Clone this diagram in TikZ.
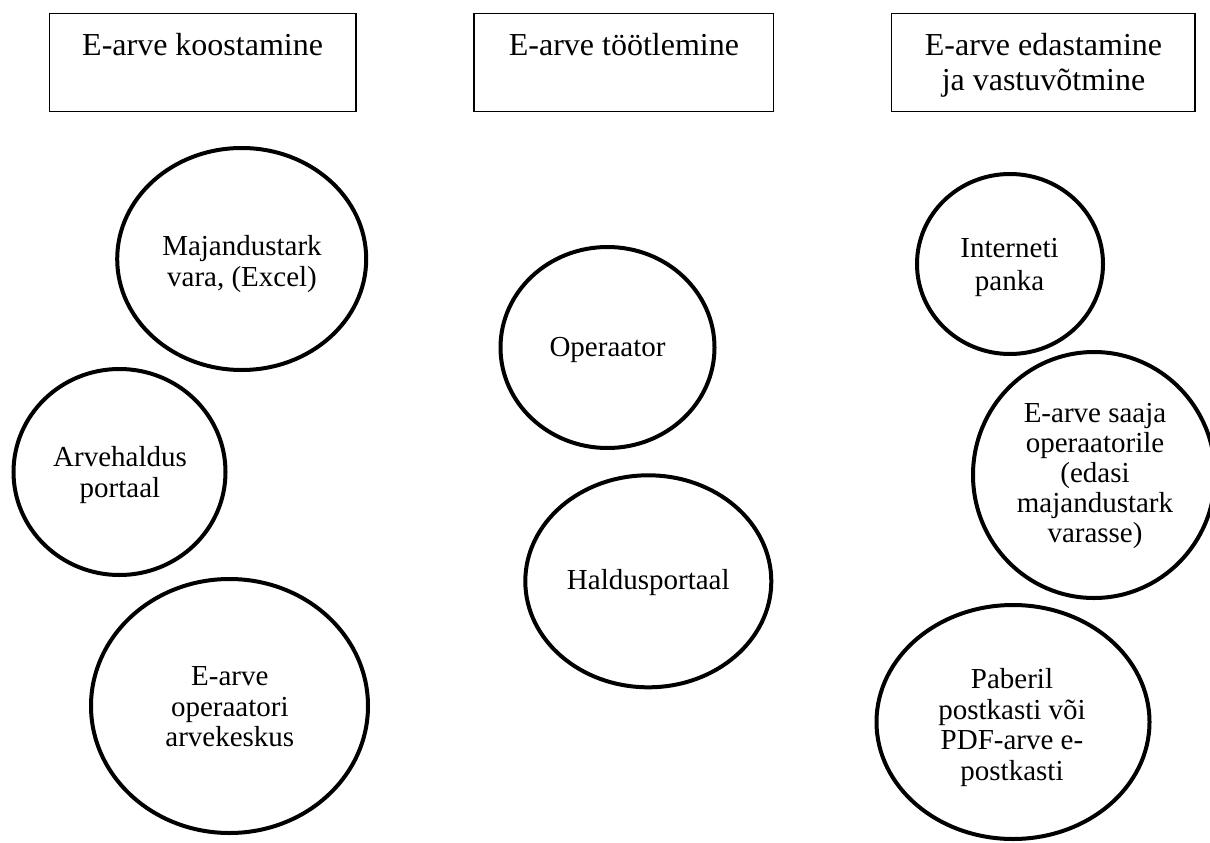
\documentclass[tikz,border=0pt]{standalone}
\usepackage{fontspec}
\setmainfont{Liberation Serif}
\usetikzlibrary{shapes.geometric}
\newcommand\fstrut{\rule{0pt}{25pt}}
\begin{document}
\begin{tikzpicture}[x=1pt,y=-1pt,
  hdrbox/.style={draw, line width=1.3pt, rectangle, inner sep=0pt},
  bubble/.style={draw, line width=4pt, ellipse, inner sep=0pt},
  hdrtxt/.style={anchor=north, align=center, inner sep=0pt, font=\fontsize{32}{35}\selectfont},
  bubtxt/.style={anchor=north, align=center, inner sep=0pt, font=\fontsize{29}{30.5}\selectfont}]
\useasboundingbox (0,0) rectangle (1210,843);
\fill[white] (0,0) rectangle (1210,843);

% header boxes
\node[hdrbox, minimum width=306.6pt, minimum height=98.4pt] (b1) at (202.7,62.5) {};
\node[hdrbox, minimum width=299.7pt, minimum height=98.4pt] (b2) at (623.9,62.5) {};
\node[hdrbox, minimum width=303.3pt, minimum height=98.4pt] (b3) at (1043.3,62.5) {};
\node[hdrtxt] (h1) at (202.6,30) {\fstrut E-arve koostamine};
\node[hdrtxt] (h2) at (623.9,30) {\fstrut E-arve töötlemine};
\node[hdrtxt] (h3) at (1043.5,30) {\fstrut E-arve edastamine\\ja vastuvõtmine};

% bubbles
\node[bubble, minimum width=249pt, minimum height=222pt] (c1) at (241.7,259) {};
\node[bubble, minimum width=212pt, minimum height=206pt] (c2) at (119.5,472) {};
\node[bubble, minimum width=277pt, minimum height=254pt] (c3) at (229.5,706) {};
\node[bubble, minimum width=214pt, minimum height=201pt] (c4) at (607.5,347.5) {};
\node[bubble, minimum width=246pt, minimum height=212pt] (c5) at (648.3,581.3) {};
\node[bubble, minimum width=186pt, minimum height=180pt] (c6) at (1010,264) {};
\node[bubble, minimum width=242pt, minimum height=246pt] (c7) at (1094,475) {};
\node[bubble, minimum width=273pt, minimum height=234pt] (c8) at (1013,722) {};

% bubble texts
\node[bubtxt, font=\fontsize{29}{31.7}\selectfont] (t1) at (242,230) {\fstrut Majandustark\\vara, (Excel)};
\node[bubtxt, font=\fontsize{29}{31}\selectfont] (t2) at (120,441) {\fstrut Arvehaldus\\portaal};
\node[bubtxt, font=\fontsize{29}{30.2}\selectfont] (t3) at (229.8,660.7) {\fstrut E-arve\\operaatori\\arvekeskus};
\node[bubtxt] (t4) at (607.5,331.7) {\fstrut Operaator};
\node[bubtxt] (t5) at (648.3,564.3) {\fstrut Haldusportaal};
\node[bubtxt, font=\fontsize{29}{32.7}\selectfont] (t6) at (1009.5,232.3) {\fstrut Interneti\\panka};
\node[bubtxt, font=\fontsize{29}{30}\selectfont] (t7) at (1095,397.7) {\fstrut E-arve saaja\\operaatorile\\(edasi\\majandustark\\varasse)};
\node[bubtxt, font=\fontsize{29}{30.6}\selectfont] (t8) at (1012,663.3) {\fstrut Paberil\\postkasti või\\PDF-arve e-\\postkasti};
\end{tikzpicture}
\end{document}
